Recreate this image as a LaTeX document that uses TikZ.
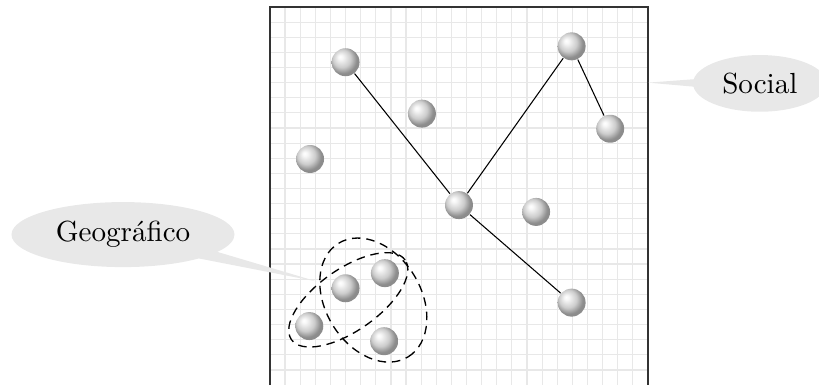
\documentclass[tikz,border=0pt]{standalone}
\usepackage{fontspec}
\usetikzlibrary{shapes.geometric,shapes.callouts}

% soft spherical shading for the agents
\pgfdeclareradialshading{softball}{\pgfqpoint{-10bp}{10bp}}{%
  color(0bp)=(white); color(4bp)=(black!3); color(16bp)=(black!20);
  color(25bp)=(black!45); color(50bp)=(black!45)}

\tikzset{
  gridline/.style={draw=black!9, line width=0.45pt},
  frameline/.style={draw=black!80, line width=0.5pt},
  agent/.style={circle, minimum size=0.37cm, inner sep=0pt, shading=softball},
  link/.style={draw=black, line width=0.4pt},
  region/.style={draw=black, line width=0.5pt, dash pattern=on 3.2pt off 2.2pt},
  bubble/.style={ellipse callout, fill=black!9, draw=none, inner sep=1pt,
    font=\fontsize{10.95}{13}\selectfont}
}

\begin{document}
\begin{tikzpicture}
\useasboundingbox (-3.571,0) rectangle (7.262,5.093);

% grid and frame
\foreach \i in {1,...,24} {
  \draw[gridline] (\i*0.2,0) -- (\i*0.2,5);
  \draw[gridline] (0,\i*0.2) -- (5,\i*0.2);
}
\draw[frameline] (0,0) -- (0,5) -- (5,5) -- (5,0);

% agents
\node[agent] (a1)  at (1.0,4.27) {};
\node[agent] (a2)  at (2.01,3.59) {};
\node[agent] (a3)  at (0.53,2.99) {};
\node[agent] (a4)  at (2.5,2.38) {};
\node[agent] (a5)  at (3.52,2.29) {};
\node[agent] (a6)  at (3.99,4.48) {};
\node[agent] (a7)  at (4.5,3.39) {};
\node[agent] (a8)  at (3.99,1.09) {};
\node[agent] (a9)  at (1.0,1.28) {};
\node[agent] (a10) at (1.52,1.48) {};
\node[agent] (a11) at (0.52,0.78) {};
\node[agent] (a12) at (1.51,0.58) {};

% social links
\draw[link] (a1) -- (a4);
\draw[link] (a4) -- (a6);
\draw[link] (a6) -- (a7);
\draw[link] (a4) -- (a8);

% geographic neighbourhoods
\draw[region] (1.036,1.127) ellipse[x radius=0.918, y radius=0.409, rotate=35];
\draw[region] (1.367,1.124) ellipse[x radius=0.881, y radius=0.631, rotate=-58.5];

% labels
\coordinate (socTip) at (5.0,4.0);
\coordinate (geoTip) at (0.62,1.37);
\node[bubble, minimum width=1.77cm, minimum height=0.75cm,
      callout absolute pointer={(socTip)}] (social) at (6.48,3.99) {Social};
\node[bubble, minimum width=2.95cm, minimum height=0.86cm,
      callout absolute pointer={(geoTip)}] (geo) at (-1.944,1.99) {Geográfico};
\end{tikzpicture}
\end{document}
